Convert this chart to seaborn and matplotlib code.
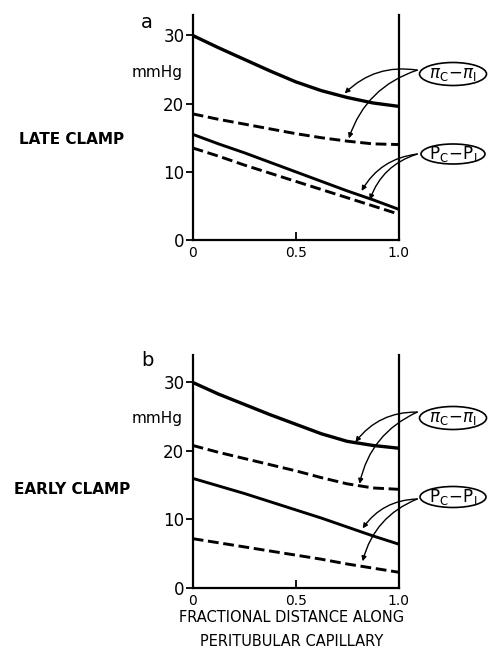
import numpy as np
import pandas as pd
import matplotlib
matplotlib.use('Agg')
import matplotlib.pyplot as plt
import seaborn as sns
from matplotlib.patches import Ellipse

sns.set_theme(style='white', rc={'text.color': 'black', 'xtick.color': 'black',
                                 'ytick.color': 'black', 'axes.labelcolor': 'black'})
plt.rcParams['font.family'] = ['DejaVu Sans']
plt.rcParams['mathtext.fontset'] = 'dejavusans'

# fractional distance along the capillary
dist = [0, 0.125, 0.25, 0.375, 0.5, 0.625, 0.75, 0.875, 1.0]

# panel a: late clamp (mmHg)
late_onc = [30.0, 28.2, 26.5, 24.8, 23.2, 21.9, 20.9, 20.1, 19.6]     # pi_C - pi_I, solid
late_onc_d = [18.5, 17.7, 17.0, 16.3, 15.6, 15.0, 14.5, 14.1, 14.0]   # pi_C - pi_I, dashed
late_hyd = [15.5, 14.1, 12.8, 11.4, 10.0, 8.6, 7.2, 5.9, 4.5]         # P_C - P_I, solid
late_hyd_d = [13.5, 12.3, 11.0, 9.8, 8.6, 7.4, 6.2, 5.0, 3.8]         # P_C - P_I, dashed

# panel b: early clamp (mmHg)
early_onc = [30.0, 28.3, 26.8, 25.3, 23.9, 22.5, 21.4, 20.8, 20.4]
early_onc_d = [20.8, 19.8, 18.9, 18.0, 17.1, 16.1, 15.2, 14.6, 14.4]
early_hyd = [16.0, 14.9, 13.8, 12.6, 11.4, 10.2, 8.9, 7.6, 6.4]
early_hyd_d = [7.2, 6.6, 6.0, 5.4, 4.8, 4.2, 3.5, 2.9, 2.3]

panels = [
    ('a', 'LATE CLAMP', late_onc, late_onc_d, late_hyd, late_hyd_d),
    ('b', 'EARLY CLAMP', early_onc, early_onc_d, early_hyd, early_hyd_d),
]

W, H = 488, 650
fig = plt.figure(figsize=(W / 100, H / 100), dpi=100)

# axes rectangles in pixels (left, bottom from top, top from top), ylim top
rects = [(192.7, 240, 15, 33), (192.7, 588, 355, 34)]
ax_w = 206

def fx(px):
    return px / W

def fy(py):
    return 1 - py / H

# arrow tips (data coords) and start points (axes fraction)
tips = [
    [(0.738, 21.5), (0.758, 14.9), (0.82, 7.2), (0.86, 5.9)],
    [(0.79, 21.3), (0.81, 15.2), (0.825, 8.7), (0.825, 3.9)],
]
starts = [(1.09, 0.755), (1.09, 0.382)]
n = len(dist)

for i, (tag, name, onc, onc_d, hyd, hyd_d) in enumerate(panels):
    left, y0, ytop, ymax = rects[i]
    ax = fig.add_axes([fx(left), fy(y0), ax_w / W, (y0 - ytop) / H])
    df = pd.DataFrame({
        'x': dist * 4,
        'y': onc + onc_d + hyd + hyd_d,
        'curve': ['onc'] * n + ['onc_d'] * n + ['hyd'] * n + ['hyd_d'] * n,
    })
    for c in ['onc', 'onc_d', 'hyd', 'hyd_d']:
        sub = df[df['curve'] == c]
        dashed = c.endswith('_d')
        lw = 2.4 if c == 'onc' else 2.1
        sns.lineplot(data=sub, x='x', y='y', ax=ax, color='black', lw=lw,
                     linestyle='--' if dashed else '-',
                     dashes=(4.5, 2.3) if dashed else None, legend=False)
    ax.set_xlim(0, 1.0)
    ax.set_ylim(0, ymax)
    ax.set_xticks([0, 0.5, 1.0])
    ax.set_xticklabels(['0', '0.5', '1.0'])
    ax.set_yticks([0, 10, 20, 30])
    ax.set_yticklabels(['0', '10', '20', '30'])
    ax.tick_params(axis='y', direction='out', length=5, width=1.3,
                   labelsize=12, pad=1, left=True)
    ax.tick_params(axis='x', direction='in', length=6, width=1.3,
                   labelsize=10, pad=4, bottom=True)
    ax.set_xlabel('')
    ax.set_ylabel('')
    for s in ['left', 'right', 'bottom']:
        ax.spines[s].set_visible(True)
        ax.spines[s].set_color('black')
        ax.spines[s].set_linewidth(1.6)
    ax.spines['top'].set_visible(False)
    ax.set_facecolor('none')

    # arrows from labels to curves
    for j, (tx, ty) in enumerate(tips[i]):
        sx, sy = starts[j // 2]
        ax.annotate('', xy=(tx, ty), xycoords='data',
                    xytext=(sx, sy), textcoords='axes fraction',
                    arrowprops=dict(arrowstyle='-|>', color='black', lw=1.0,
                                    mutation_scale=7, shrinkA=0, shrinkB=0,
                                    connectionstyle='arc3,rad=0.25'),
                    annotation_clip=False)

    fig.text(fx(147), fy(22 if i == 0 else 360), tag, fontsize=14,
             ha='center', va='center')
    fig.text(fx(157), fy(72 if i == 0 else 418), 'mmHg', fontsize=11,
             ha='center', va='center')
    fig.text(fx(72), fy(140 if i == 0 else 490), name, fontsize=11,
             fontweight='bold', ha='center', va='center')

# ellipse labels
labels = [
    (453, 74, 67, 23, r'$\pi_{\mathrm{C}}\!-\!\pi_{\mathrm{I}}$'),
    (453, 154, 64, 20, r'$\mathrm{P_C}\!-\!\mathrm{P_I}$'),
    (453, 418, 67, 23, r'$\pi_{\mathrm{C}}\!-\!\pi_{\mathrm{I}}$'),
    (453, 497, 66, 21, r'$\mathrm{P_C}\!-\!\mathrm{P_I}$'),
]
for cx, cy, ew, eh, txt in labels:
    e = Ellipse((fx(cx), fy(cy)), ew / W, eh / H, transform=fig.transFigure,
                facecolor='white', edgecolor='black', lw=1.2)
    fig.add_artist(e)
    fig.text(fx(cx), fy(cy), txt, fontsize=12, ha='center', va='center')

fig.text(fx(292), fy(618), 'FRACTIONAL DISTANCE ALONG', fontsize=10.5,
         ha='center', va='center')
fig.text(fx(292), fy(642), 'PERITUBULAR CAPILLARY', fontsize=10.5,
         ha='center', va='center')

fig.savefig('out.png', dpi=100, facecolor='white')
